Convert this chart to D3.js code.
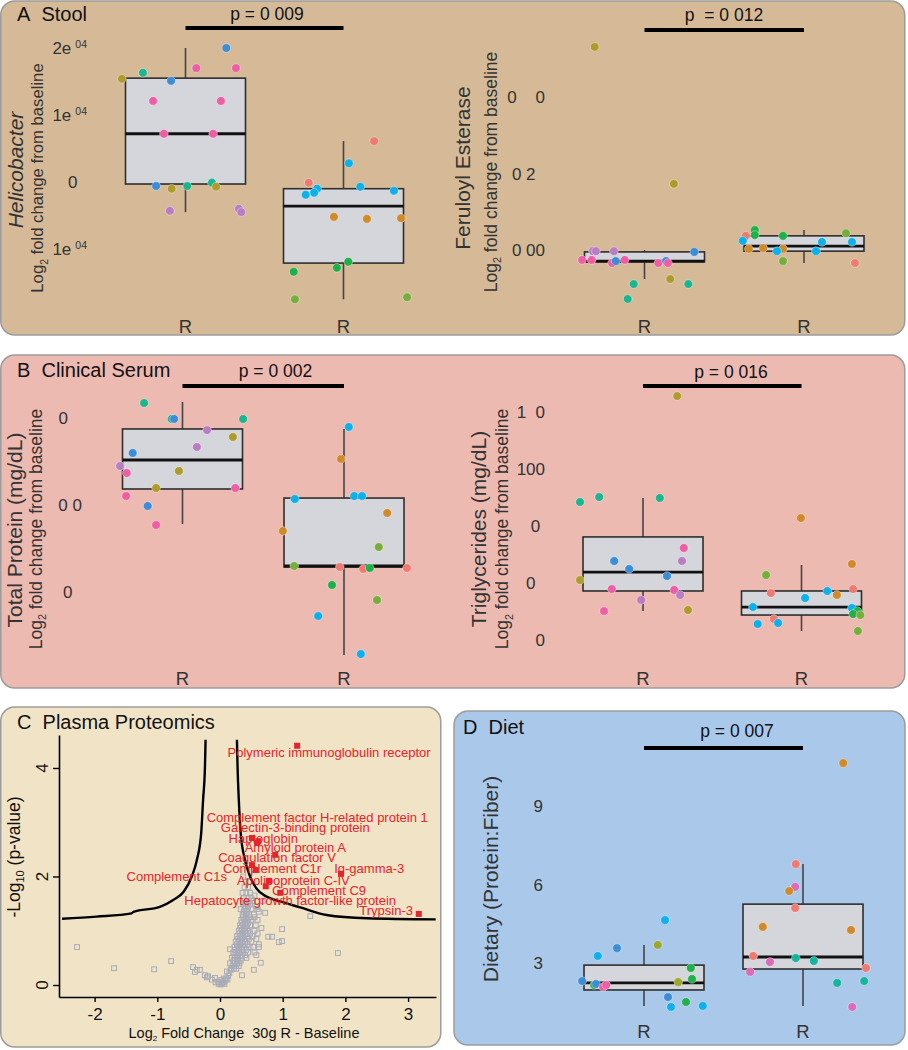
<!DOCTYPE html>
<html><head><meta charset="utf-8">
<script src="https://cdn.jsdelivr.net/npm/d3@7"></script>
<style>
body{margin:0;background:#fff}
svg{display:block;font-family:"Liberation Sans",Arial,Helvetica,sans-serif}
</style>
</head><body>
<svg id="c" width="908" height="1050"></svg>
<script>
// ---------------- DATA ----------------
const groups = ["R", "R"];
const subjectIds = [1,2,3,4,5,6,7,8,9,10,11,12,13];
const subjectColors = ["#AD9C2B","#1DB58F","#3C8DD6","#EE5EA4","#B97DC4","#EE7A72","#0DB0EA","#D18A2A","#1FB04A","#75AE3A","#9AA82E","#D96BB8","#14B59C"];

// A left: Helicobacter (units 1e-04)
const heliTicks = [2, 1, 0, -1];
const heliTickLabels = [["2e","04"],["1e","04"],["0\u00a0\u00a0",""],["1e","04"]];
const heliStats = [{lo:-0.45,q1:-0.03,med:0.72,q3:1.55,hi:2.0},{lo:-1.75,q1:-1.21,med:-0.36,q3:-0.10,hi:0.61}];
const heliVals1 = [1.54,1.63,1.51,1.70,2.00,1.70,1.21,1.21,0.72,0.72,-0.06,-0.10,-0.06,-0.01,-0.07,-0.43,-0.40,-0.45];
const heliJit1  = [-1.06,-0.71,-0.24,0.18,0.68,0.84,-0.54,0.59,-0.36,0.46,-0.49,-0.23,0.03,0.44,0.51,-0.26,0.89,0.93];
const heliSub1  = [1,2,3,4,3,4,4,4,4,4,3,1,2,2,1,5,5,5];
const heliVals2 = [0.61,0.28,-0.01,-0.10,-0.16,-0.19,-0.07,-0.13,-0.52,-0.55,-0.54,-1.19,-1.28,-1.34,-1.75,-1.72];
const heliJit2  = [0.51,0.09,-0.58,-0.44,-0.49,-0.63,0.28,0.84,-0.16,0.39,0.96,0.08,-0.11,-0.83,-0.81,1.06];
const heliSub2  = [6,7,6,7,7,7,7,7,8,8,8,9,9,9,10,10];

// A right: Feruloyl Esterase (units 0.01)
const ferTicks = [4, 2, 0];
const ferTickLabels = [["0\u00a0\u00a0\u00a0\u00a00",""],["0\u00a02\u00a0\u00a0",""],["0\u00a000",""]];
const ferStats = [{lo:-0.76,q1:-0.31,med:-0.29,q3:-0.05,hi:0.0},{lo:-0.34,q1:-0.03,med:0.10,q3:0.37,hi:0.52}];
const ferVals1 = [5.31,1.73,-0.03,-0.03,-0.03,-0.05,-0.26,-0.26,-0.34,-0.29,-0.26,-0.34,-0.29,-0.34,-0.89,-0.89,-1.28,-0.76];
const ferJit1  = [-0.83,0.49,-0.86,-0.81,-0.51,0.83,-1.04,-0.88,-0.54,-0.48,-0.33,0.23,0.36,0.39,-0.18,0.73,-0.28,0.43];
const ferSub1  = [1,1,5,5,5,3,4,4,4,3,4,4,3,4,2,2,2,1];
const ferVals2 = [0.52,0.39,0.37,0.37,0.44,0.24,0.21,0.21,0.03,0.05,0.03,-0.03,-0.03,-0.29,-0.34];
const ferJit2  = [-0.82,-0.82,-0.97,-0.35,0.70,-1.02,0.30,0.80,-0.92,-0.68,-0.35,-0.45,0.20,-0.35,0.85];
const ferSub2  = [9,9,6,9,10,7,7,7,8,8,8,7,7,10,6];

// B left: Total Protein (units 0.01)
const tpTicks = [10, 0, -10];
const tpTickLabels = [["0\u00a0\u00a0\u00a0",""],["0\u00a00",""],["0\u00a0\u00a0",""]];
const tpStats = [{lo:-2.18,q1:1.84,med:5.17,q3:8.74,hi:11.84},{lo:-17.24,q1:-7.13,med:-7.01,q3:0.80,hi:8.74}];
const tpVals1 = [11.72,9.89,9.89,9.89,8.62,7.82,6.67,5.98,4.48,3.68,3.91,1.95,1.95,1.03,-0.11,-2.30];
const tpJit1  = [-0.64,-0.18,-0.14,1.01,0.41,0.84,0.24,-0.83,-1.04,-0.93,-0.06,-0.44,0.88,-0.94,-0.58,-0.44];
const tpSub1  = [2,2,3,2,5,1,5,3,5,4,1,1,4,4,3,4];
const tpVals2 = [8.97,5.29,0.69,1.03,1.03,-0.92,-2.99,-4.83,-7.01,-7.13,-7.36,-7.24,-7.24,-9.20,-10.92,-12.76,-17.13];
const tpJit2  = [0.08,-0.05,-0.82,0.17,0.30,0.72,-1.02,0.58,-0.83,-0.07,0.32,0.43,1.05,-0.20,0.55,-0.43,0.28];
const tpSub2  = [7,8,7,7,7,8,8,10,10,6,6,9,6,9,10,7,7];

// B right: Triglycerides (mg/dL)
const tgTicks = [150, 100, 50, 0, -50];
const tgTickLabels = [["1\u00a0\u00a00",""],["100",""],["0\u00a0",""],["0\u00a0\u00a0",""],["0",""]];
const tgStats = [{lo:-24.6,q1:-7.0,med:9.6,q3:40.4,hi:74.6},{lo:-42.1,q1:-28.1,med:-21.1,q3:-7.0,hi:15.8}];
const tgVals1 = [164.0,71.1,75.4,74.6,30.7,19.3,19.3,12.3,6.1,2.6,-5.3,-6.1,-10.5,-14.9,-24.6,-23.7];
const tgJit1  = [0.57,-1.05,-0.73,0.28,0.68,-0.48,0.65,-0.23,0.40,-1.05,-0.52,0.52,0.62,-0.03,-0.65,0.75];
const tgSub1  = [1,2,2,2,4,3,5,3,3,1,4,4,5,5,4,1];
const tgVals2 = [57.0,16.7,7.0,-5.3,-8.8,-7.0,-10.5,-13.2,-21.1,-21.9,-24.6,-27.2,-28.1,-31.6,-36.0,-35.1,-42.1];
const tgJit2  = [-0.01,0.84,-0.59,0.86,-0.51,0.43,0.59,0.06,-0.81,0.84,0.93,0.86,0.98,-0.46,-0.73,-0.39,0.94];
const tgSub2  = [8,8,10,6,6,7,8,7,7,7,9,9,10,6,7,7,10];

// D: Diet (Protein:Fiber)
const dietTicks = [9, 6, 3];
const dietTickLabels = [["9",""],["6",""],["3",""]];
const dietStats = [{lo:1.36,q1:1.97,med:2.24,q3:2.92,hi:3.69},{lo:1.36,q1:2.77,med:3.23,q3:5.25,hi:6.78}];
const dietVals1 = [4.64,3.57,3.27,3.69,2.81,2.39,2.27,2.31,2.16,2.20,2.08,2.16,1.70,1.32,1.51,1.36];
const dietJit1  = [0.35,-0.45,-0.77,0.23,0.78,0.80,0.57,-1.03,-0.83,-0.80,-0.68,-0.63,0.40,0.45,0.70,0.98];
const dietSub1  = [7,3,7,11,9,9,11,3,9,3,4,4,3,7,9,7];
const dietVals2 = [10.64,6.78,5.91,5.75,5.10,4.38,4.26,3.27,3.19,3.04,3.08,2.66,2.81,2.24,2.31,1.32];
const dietJit2  = [0.67,-0.12,-0.13,-0.23,-0.13,-0.67,0.80,-0.83,-0.12,-0.55,0.18,-0.88,1.05,0.57,1.02,0.82];
const dietSub2  = [8,6,12,8,6,8,8,6,13,12,13,12,6,13,13,12];

// C: Plasma proteomics volcano
const volcanoXTicks = [-2,-1,0,1,2,3];
const volcanoYTicks = [0,2,4];
const thresholdLeft = [[-2.52,1.22],[-1.97,1.26],[-1.41,1.32],[-1.38,1.35],[-0.96,1.44],[-0.74,1.57],[-0.58,1.72],[-0.45,2.00],[-0.37,2.30],[-0.30,2.80],[-0.27,3.41],[-0.24,4.02],[-0.23,4.52]];
const thresholdRight = [[0.27,4.52],[0.28,4.02],[0.30,3.41],[0.33,2.80],[0.40,2.30],[0.48,2.00],[0.58,1.78],[0.74,1.63],[0.96,1.54],[1.28,1.43],[1.70,1.29],[2.34,1.23],[3.44,1.21]];
const sigFC   = [1.23,0.51,0.59,0.61,0.88,0.51,0.57,1.93,0.78,0.73,0.96,3.17];
const sigNegP = [4.41,2.71,2.62,2.65,2.40,2.21,2.12,2.05,1.92,1.82,1.70,1.31];
const protNames = ["Polymeric immunoglobulin receptor","Complement factor H-related protein 1","Galectin-3-binding protein","Haptoglobin","Amyloid protein A","Coagulation factor V","Complement C1r","Ig-gamma-3","Complement C1s","Apolipoprotein C-IV","Complement C9","Hepatocyte growth factor-like protein","Trypsin-3"];
const protLabelFC   = [1.74,1.55,1.20,0.69,1.20,0.91,0.83,2.38,-0.69,1.17,1.58,1.12,2.65];
const protLabelNegP = [4.20,3.00,2.82,2.62,2.45,2.27,2.06,2.06,1.92,1.84,1.66,1.47,1.29];
const bgPoints = [
[-2.28,0.70],[-1.69,0.31],[-1.05,0.29],[-0.78,0.44],
[-0.43,0.33],[-0.40,0.24],[-0.37,0.28],[-0.32,0.28],[-0.24,0.18],[-0.21,0.14],[-0.19,0.16],[-0.13,0.10],[-0.08,0.13],[-0.07,0.05],[-0.03,0.06],[-0.02,0.02],[0.01,0.01],[0.03,0.03],[0.05,0.05],[0.07,0.02],[0.08,0.08],[0.10,0.12],[0.12,0.10],[0.13,0.17],[0.15,0.22],[0.06,0.12],[0.17,0.28],[0.11,0.25],[0.02,0.09],
[0.16,0.66],[0.35,0.18],[0.54,0.28],[0.65,0.41],[0.72,1.33],[0.77,0.89],[0.83,0.89],[0.94,0.79],[0.99,0.81],[0.99,1.03],[1.44,1.27],[1.88,0.59],[0.58,0.55],[0.62,0.75],[0.66,1.05],[0.60,1.20],[0.68,1.55],[0.55,1.65],
[0.55,1.25],[0.58,1.45],[0.62,1.35],[0.52,1.55],[0.57,1.10],[0.60,0.95],[0.58,0.85],[0.62,0.70],[0.55,0.60],
[0.18,0.30],[0.22,0.30],[0.26,0.30],[0.20,0.35],[0.25,0.35],[0.30,0.35],
[0.16,0.40],[0.21,0.40],[0.27,0.40],[0.31,0.40],[0.22,0.45],[0.28,0.45],[0.33,0.45],
[0.19,0.50],[0.24,0.50],[0.29,0.50],[0.35,0.50],[0.42,0.50],[0.23,0.55],[0.28,0.55],[0.33,0.55],[0.40,0.55],
[0.21,0.60],[0.26,0.60],[0.31,0.60],[0.36,0.60],[0.45,0.60],[0.24,0.65],[0.30,0.65],[0.35,0.65],[0.42,0.65],
[0.23,0.70],[0.28,0.70],[0.33,0.70],[0.38,0.70],[0.47,0.70],[0.53,0.70],[0.27,0.75],[0.32,0.75],[0.37,0.75],[0.44,0.75],
[0.25,0.80],[0.30,0.80],[0.35,0.80],[0.40,0.80],[0.50,0.80],[0.29,0.85],[0.34,0.85],[0.39,0.85],[0.46,0.85],
[0.27,0.90],[0.32,0.90],[0.37,0.90],[0.43,0.90],[0.52,0.90],[0.31,0.95],[0.36,0.95],[0.41,0.95],[0.48,0.95],
[0.30,1.00],[0.35,1.00],[0.40,1.00],[0.45,1.00],[0.55,1.00],[0.33,1.05],[0.38,1.05],[0.43,1.05],
[0.32,1.10],[0.37,1.10],[0.42,1.10],[0.48,1.10],[0.35,1.15],[0.40,1.15],[0.45,1.15],
[0.34,1.20],[0.39,1.20],[0.44,1.20],[0.50,1.20],[0.37,1.25],[0.42,1.25],[0.47,1.25],
[0.36,1.30],[0.41,1.30],[0.46,1.30],[0.54,1.30],[0.38,1.35],[0.43,1.35],
[0.33,1.40],[0.39,1.40],[0.44,1.40],[0.50,1.40],[0.60,1.40],[0.40,1.45],[0.45,1.45],
[0.37,1.50],[0.42,1.50],[0.48,1.50],[0.40,1.55],[0.46,1.55],
[0.38,1.60],[0.44,1.60],[0.50,1.60],[0.36,1.70],[0.42,1.70],[0.48,1.70],
[0.39,1.80],[0.45,1.80],[0.41,1.90],[0.46,1.90],[0.37,2.00]
];

// ---------------- DRAWING ----------------
const svg = d3.select("#c");
const color = d3.scaleOrdinal().domain(subjectIds).range(subjectColors);
const TXT = "#333";

// panel backgrounds
[
  {x:0.75, y:1, w:904, h:334, fill:"#D6BA97"},
  {x:0.75, y:355, w:904, h:333, fill:"#EDBAB2"},
  {x:0.75, y:707, w:440, h:340, fill:"#F1E4C6"},
  {x:454, y:711, w:451, h:334, fill:"#AAC9EA"}
].forEach(p => svg.append("rect").attr("x",p.x).attr("y",p.y).attr("width",p.w).attr("height",p.h)
  .attr("rx",14).attr("fill",p.fill).attr("stroke","#9C9C9C").attr("stroke-width",1.5));

// panel titles
[["A","Stool",17,21],["B","Clinical Serum",17,377],["C","Plasma Proteomics",17,729],["D","Diet",463,734]]
.forEach(([l,t,x,y]) => svg.append("text").attr("x",x).attr("y",y).attr("font-size",20).attr("fill","#111")
  .text(l + "\u00a0\u00a0" + t));

function rotText(x, y, size, parts, italic) {
  const t = svg.append("text").attr("transform",`translate(${x},${y}) rotate(-90)`)
    .attr("text-anchor","middle").attr("font-size",size).attr("fill",TXT);
  if (italic) t.attr("font-style","italic");
  let prevSub = false;
  parts.forEach(([s, sub]) => {
    const ts = t.append("tspan").text(s);
    if (sub) { ts.attr("font-size", size*0.62).attr("dy", size*0.28); prevSub = true; }
    else if (prevSub) { ts.attr("dy", -size*0.28); prevSub = false; }
  });
}
const logSub = [["Log",false],["2",true],[" fold change from baseline",false]];

function boxPanel(p) {
  const g = svg.append("g");
  const y = d3.scaleLinear().domain(p.refVals).range(p.refPix);
  const x = d3.scalePoint().domain(d3.range(groups.length)).range(p.centers);
  const bw = 120;
  const jx = d3.scaleLinear().domain([-1,1]).range([-bw/2, bw/2]);
  p.stats.forEach((s,i) => {
    const cx = x(i);
    g.append("line").attr("x1",cx).attr("x2",cx).attr("y1",y(s.hi)).attr("y2",y(s.q3)).attr("stroke","#444").attr("stroke-width",1.6);
    g.append("line").attr("x1",cx).attr("x2",cx).attr("y1",y(s.q1)).attr("y2",y(s.lo)).attr("stroke","#444").attr("stroke-width",1.6);
    g.append("rect").attr("x",cx-bw/2).attr("width",bw).attr("y",y(s.q3)).attr("height",Math.max(1,y(s.q1)-y(s.q3)))
      .attr("fill","#D5D6DB").attr("stroke","#2E2E2E").attr("stroke-width",1.6);
    g.append("line").attr("x1",cx-bw/2).attr("x2",cx+bw/2).attr("y1",y(s.med)).attr("y2",y(s.med)).attr("stroke","#111").attr("stroke-width",2.8);
  });
  p.series.forEach((ser,i) => {
    const pts = ser.vals.map((v,k) => ({v, j:ser.jit[k], s:ser.sub[k]}));
    g.selectAll(null).data(pts).join("circle")
      .attr("cx", d => x(i) + jx(d.j)).attr("cy", d => y(d.v)).attr("r",4.3)
      .attr("fill", d => color(d.s)).attr("stroke","rgba(255,255,255,0.45)").attr("stroke-width",0.8);
  });
  // y tick labels
  p.ticks.forEach((tv,k) => {
    const [main, sup] = p.tickLabels[k];
    const t = g.append("text").attr("x",p.tickRight).attr("y",y(tv)).attr("dy","0.36em")
      .attr("text-anchor","end").attr("font-size",17).attr("fill",TXT).text(main);
    if (sup) t.append("tspan").attr("dx",4).attr("dy",-6).attr("font-size",10.5).text(sup);
  });
  // x labels
  groups.forEach((gname,i) => g.append("text").attr("x",x(i)).attr("y",p.rY).attr("text-anchor","middle")
    .attr("font-size",18.5).attr("fill",TXT).text(gname));
  // significance bar
  g.append("line").attr("x1",x(0)).attr("x2",x(1)).attr("y1",p.barY).attr("y2",p.barY).attr("stroke","#000").attr("stroke-width",4);
  g.append("text").attr("x",p.pX).attr("y",p.pY).attr("text-anchor","middle").attr("font-size",17.5).attr("fill","#111").text(p.pText);
  // titles
  rotText(p.titleX, p.titleY, 21, [[p.title,false]], p.italic);
  if (p.subX) rotText(p.subX, p.subY, p.subSize, logSub, false);
}

boxPanel({refVals:[0,2], refPix:[182,48], centers:[185.5,343.5], stats:heliStats,
  series:[{vals:heliVals1,jit:heliJit1,sub:heliSub1},{vals:heliVals2,jit:heliJit2,sub:heliSub2}],
  ticks:heliTicks, tickLabels:heliTickLabels, tickRight:87, rY:333, barY:28, pX:267, pY:20, pText:"p = 0 009",
  title:"Helicobacter", italic:true, titleX:23, titleY:170, subX:43, subY:178, subSize:16.7});

boxPanel({refVals:[0,4], refPix:[250,97], centers:[644.5,804], stats:ferStats,
  series:[{vals:ferVals1,jit:ferJit1,sub:ferSub1},{vals:ferVals2,jit:ferJit2,sub:ferSub2}],
  ticks:ferTicks, tickLabels:ferTickLabels, tickRight:545, rY:333, barY:30, pX:724, pY:21, pText:"p\u00a0\u00a0= 0 012",
  title:"Feruloyl Esterase", italic:false, titleX:470, titleY:168, subX:496.5, subY:172, subSize:17.5});

boxPanel({refVals:[0,10], refPix:[505,418], centers:[182.5,344], stats:tpStats,
  series:[{vals:tpVals1,jit:tpJit1,sub:tpSub1},{vals:tpVals2,jit:tpJit2,sub:tpSub2}],
  ticks:tpTicks, tickLabels:tpTickLabels, tickRight:82, rY:685, barY:386, pX:275.5, pY:377, pText:"p = 0 002",
  title:"Total Protein (mg/dL)", italic:false, titleX:22, titleY:530, subX:41.5, subY:529, subSize:17.5});

boxPanel({refVals:[0,100], refPix:[583,469], centers:[643,801.5], stats:tgStats,
  series:[{vals:tgVals1,jit:tgJit1,sub:tgSub1},{vals:tgVals2,jit:tgJit2,sub:tgSub2}],
  ticks:tgTicks, tickLabels:tgTickLabels, tickRight:545, rY:685, barY:386, pX:731, pY:378, pText:"p = 0 016",
  title:"Triglycerides (mg/dL)", italic:false, titleX:486, titleY:529, subX:508, subY:529, subSize:17.5});

boxPanel({refVals:[0,9], refPix:[1041.5,806], centers:[644,803], stats:dietStats,
  series:[{vals:dietVals1,jit:dietJit1,sub:dietSub1},{vals:dietVals2,jit:dietJit2,sub:dietSub2}],
  ticks:dietTicks, tickLabels:dietTickLabels, tickRight:543, rY:1038, barY:748, pX:737, pY:737, pText:"p = 0 007",
  title:"Dietary (Protein:Fiber)", italic:false, titleX:498, titleY:879, subX:null});

// ---------------- Panel C volcano ----------------
(function(){
  const g = svg.append("g");
  const x = d3.scaleLinear().domain([-2.568, 3.445]).range([59, 436]);
  const y = d3.scaleLinear().domain([-0.221, 4.608]).range([997, 735]);
  // axes
  const ax = g.append("g").attr("transform","translate(0,997)")
    .call(d3.axisBottom(x).tickValues(volcanoXTicks).tickSize(5).tickSizeOuter(0).tickFormat(d => d3.format("d")(d).replace("\u2212","-")));
  ax.select(".domain").attr("stroke","#000").attr("stroke-width",1.6);
  ax.selectAll(".tick line").attr("stroke","#000").attr("stroke-width",1.4);
  ax.selectAll(".tick text").attr("font-size",17).attr("fill","#111").attr("font-family",null).attr("y",11).attr("dy","0.71em");
  const ay = g.append("g").attr("transform","translate(59,0)")
    .call(d3.axisLeft(y).tickValues(volcanoYTicks).tickSize(6).tickSizeOuter(0).tickFormat(""));
  ay.select(".domain").attr("stroke","#000").attr("stroke-width",1.6);
  ay.selectAll(".tick line").attr("stroke","#000").attr("stroke-width",1.4);
  volcanoYTicks.forEach(v => g.append("text").attr("transform",`translate(48,${y(v)}) rotate(-90)`)
    .attr("text-anchor","middle").attr("font-size",17).attr("fill","#111").text(v));
  // background points
  g.selectAll(null).data(bgPoints).join("rect")
    .attr("x", d => x(d[0]) - 2.4).attr("y", d => y(d[1]) - 2.4).attr("width",4.8).attr("height",4.8)
    .attr("fill","none").attr("stroke","#A7AAB9").attr("stroke-width",1);
  // threshold curves
  const line = d3.line().x(d => x(d[0])).y(d => y(d[1])).curve(d3.curveMonotoneX);
  [thresholdLeft, thresholdRight].forEach(c => g.append("path").attr("d", line(c))
    .attr("fill","none").attr("stroke","#000").attr("stroke-width",2.4));
  // significant points
  g.selectAll(null).data(sigFC.map((f,i) => [f, sigNegP[i]])).join("rect")
    .attr("x", d => x(d[0]) - 3).attr("y", d => y(d[1]) - 3).attr("width",6).attr("height",6).attr("fill","#E3262B");
  // labels
  g.selectAll(null).data(protNames.map((n,i) => ({n, fx:protLabelFC[i], py:protLabelNegP[i]}))).join("text")
    .attr("x", d => x(d.fx)).attr("y", d => y(d.py)).attr("text-anchor","middle")
    .attr("font-size",13).attr("fill","#E8232A").text(d => d.n);
  // axis titles
  const xt = g.append("text").attr("x",244).attr("y",1038).attr("text-anchor","middle").attr("font-size",14.5).attr("fill","#111");
  xt.append("tspan").text("Log");
  xt.append("tspan").attr("font-size",8).attr("dy",3).text("2");
  xt.append("tspan").attr("dy",-3).text(" Fold Change\u00a0\u00a030g R - Baseline");
  const yt = g.append("text").attr("transform","translate(19.5,857) rotate(-90)").attr("text-anchor","middle").attr("font-size",17.5).attr("fill","#111");
  yt.append("tspan").text("-Log");
  yt.append("tspan").attr("font-size",11).attr("dy",4).text("10");
  yt.append("tspan").attr("dy",-4).text(" (p-value)");
})();
</script>
</body></html>
